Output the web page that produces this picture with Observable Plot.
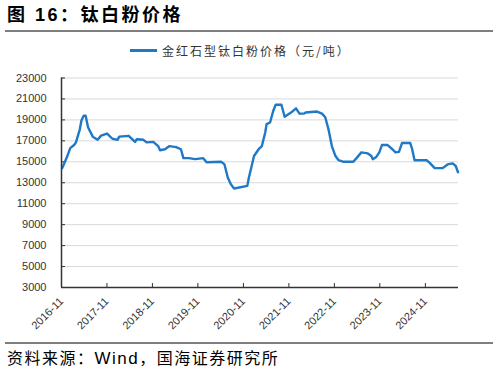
<!DOCTYPE html>
<html>
<head>
<meta charset="utf-8">
<script src="https://cdn.jsdelivr.net/npm/d3@7"></script>
<script src="https://cdn.jsdelivr.net/npm/@observablehq/plot@0.6"></script>
<style>
  html, body { margin: 0; padding: 0; background: #fff; }
  body { width: 498px; height: 371px; position: relative; overflow: hidden; font-family: "Liberation Sans", "Noto Sans CJK SC", sans-serif; }
  #title { position: absolute; left: 7px; top: 4px; font-size: 18px; font-weight: bold; letter-spacing: 2.5px; color: #000; font-family: "Liberation Sans", "Noto Sans CJK SC", sans-serif; white-space: nowrap; line-height: 22px; }
  .rule { position: absolute; left: 5px; width: 488px; height: 2px; background: #7f7f7f; }
  #legend { position: absolute; left: 130px; top: 41px; height: 18px; display: flex; align-items: center; font-size: 12px; letter-spacing: 2px; color: #333; font-family: "Noto Sans CJK SC", sans-serif; white-space: nowrap; }
  #legend .swatch { width: 27px; height: 3px; background: #1f78c8; margin-right: 5px; }
  #chart { position: absolute; left: 0; top: 62px; }
  #source { position: absolute; left: 7px; top: 347px; font-size: 16px; letter-spacing: 1.5px; color: #000; font-family: "Noto Sans CJK SC", sans-serif; white-space: nowrap; line-height: 20px; }
  #source .latin { font-family: "Liberation Sans", sans-serif; font-size: 17px; }
</style>
</head>
<body>
<div id="title">图 16：钛白粉价格</div>
<div class="rule" style="top:30px"></div>
<div id="legend"><span class="swatch"></span><span id="legendText"></span></div>
<div id="chart"></div>
<div class="rule" style="top:342px"></div>
<div id="source">资料来源：<span class="latin">Wind</span>，国海证券研究所</div>
<script>
const seriesName = "金红石型钛白粉价格（元/吨）";
const dates = [
  "2016-11-07","2016-12-15","2017-01-10","2017-02-10","2017-02-25","2017-03-28","2017-04-10","2017-04-28",
  "2017-05-14","2017-06-02","2017-07-10","2017-08-18","2017-09-15","2017-11-02","2017-12-15","2018-01-25",
  "2018-02-08","2018-04-25","2018-05-20","2018-06-15","2018-06-29","2018-08-21","2018-09-15","2018-11-08",
  "2018-12-17","2019-01-01","2019-02-10","2019-03-18","2019-05-10","2019-06-18","2019-07-08","2019-08-21",
  "2019-10-10","2019-12-14","2020-01-10","2020-05-06","2020-06-02","2020-06-28","2020-07-23","2020-08-18",
  "2020-12-02","2020-12-15","2021-01-25","2021-03-03","2021-03-29","2021-04-25","2021-05-06","2021-06-03",
  "2021-06-28","2021-07-18","2021-09-02","2021-09-28","2021-11-18","2021-12-28","2022-01-25","2022-03-03",
  "2022-03-15","2022-06-15","2022-07-25","2022-08-20","2022-09-15","2022-10-12","2022-11-10","2022-12-05",
  "2023-01-14","2023-04-02","2023-04-28","2023-06-06","2023-07-28","2023-08-25","2023-09-06","2023-10-03",
  "2023-10-28","2023-11-18","2024-01-03","2024-02-10","2024-03-06","2024-04-03","2024-04-28","2024-07-02",
  "2024-07-18","2024-08-06","2024-11-11","2024-12-06","2025-01-15","2025-03-20","2025-04-28","2025-06-08",
  "2025-07-03","2025-07-21"
];
const prices = [
  14400,15450,16300,16600,16850,18100,18950,19400,
  19400,18300,17400,17100,17500,17700,17200,17100,
  17400,17480,17200,16900,17150,17100,16850,16900,
  16500,16100,16200,16500,16400,16200,15350,15350,
  15250,15350,14950,15000,14750,13500,12850,12450,
  12700,13500,15550,16200,16500,17800,18600,18750,
  19850,20450,20450,19300,19700,20100,19600,19600,
  19700,19800,19600,19250,18100,16500,15550,15150,
  15000,15000,15350,15900,15800,15550,15250,15450,
  15900,16600,16600,16200,15900,15950,16800,16800,
  16200,15150,15150,14900,14400,14400,14750,14850,
  14600,14000
];
const yTicks = [3000,5000,7000,9000,11000,13000,15000,17000,19000,21000,23000];
const xTickLabels = ["2016-11","2017-11","2018-11","2019-11","2020-11","2021-11","2022-11","2023-11","2024-11"];
const xStart = "2016-11-01";
const xEnd = "2025-07-25";

document.getElementById("legendText").textContent = seriesName;

const parse = d3.utcParse("%Y-%m-%d");
const parseMonth = d3.utcParse("%Y-%m");
const data = dates.map((d, i) => ({date: parse(d), value: prices[i]}));
const xTicks = xTickLabels.map(parseMonth);
const fmt = d3.utcFormat("%Y-%m");
const lineColor = "#1f78c8";

const chart = Plot.plot({
  width: 498,
  height: 278,
  marginTop: 15.5,
  marginBottom: 53,
  marginLeft: 61,
  marginRight: 40,
  style: {fontFamily: "'Liberation Sans', Arial, sans-serif", fontSize: "11px", color: "#333", background: "#fff"},
  x: {type: "utc", domain: [parse(xStart), parse(xEnd)]},
  y: {domain: [3000, 23000]},
  marks: [
    Plot.gridY(yTicks, {stroke: "#d9d9d9", strokeOpacity: 1, strokeWidth: 1}),
    Plot.axisY(yTicks, {tickSize: 0, tickPadding: 15, tickFormat: d => String(d), fontSize: 11, fill: "#333", label: null}),
    Plot.axisY(yTicks, {tickSize: -4, tickFormat: () => "", stroke: "#333", label: null}),
    Plot.axisX(xTicks, {tickSize: 0, tickPadding: 12, tickRotate: -45, tickFormat: fmt, fontSize: 11, fill: "#333", label: null}),
    Plot.axisX(xTicks, {tickSize: -4, tickFormat: () => "", stroke: "#333", label: null}),
    Plot.line(data, {x: "date", y: "value", stroke: lineColor, strokeWidth: 2.4, strokeLinejoin: "round"}),
    Plot.ruleY([3000], {stroke: "#333", strokeWidth: 1.5}),
    Plot.ruleX([parse(xStart)], {stroke: "#333", strokeWidth: 1.5})
  ]
});
document.getElementById("chart").appendChild(chart);
</script>
</body>
</html>
